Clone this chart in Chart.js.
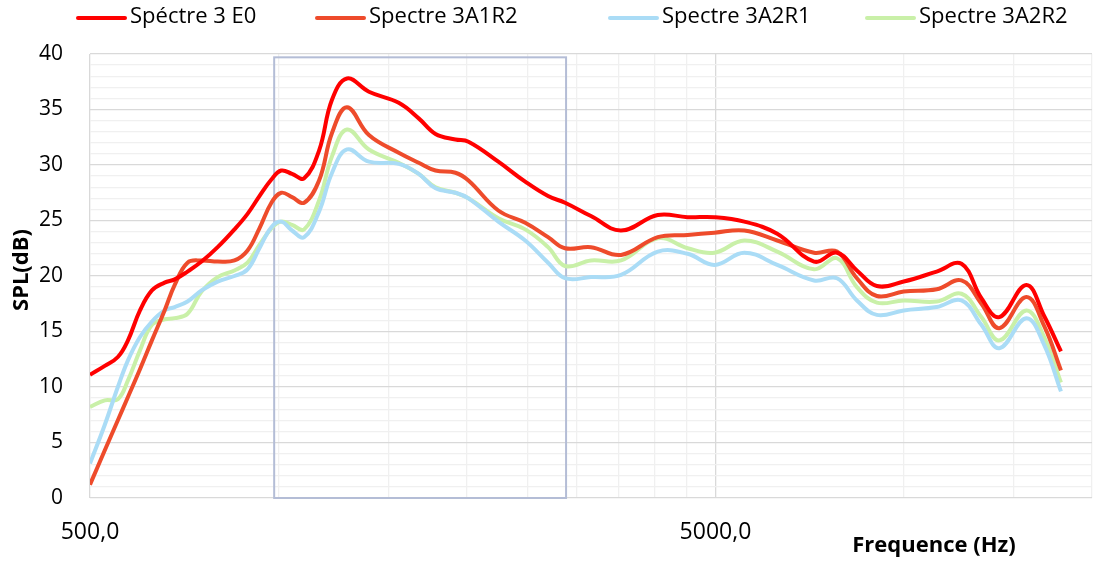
<!DOCTYPE html>
<html>
<head>
<meta charset="utf-8">
<script src="https://cdn.jsdelivr.net/npm/chart.js@4.4.1/dist/chart.umd.min.js"></script>
<style>
    html, body { margin: 0; padding: 0; background: #fff; }
    #wrap { width: 1113px; height: 563px; }
</style>
</head>
<body>
<div id="wrap"><canvas id="chart-spectre"></canvas></div>
<script>
// Spectres SPL par frequence

const frequences = [500, 528, 554, 575, 601, 628, 658, 683, 716, 754, 800, 851, 893, 933, 975,
    1011, 1052, 1100, 1162, 1219, 1288, 1396, 1558, 1677, 1784, 1920, 2014, 2248, 2482, 2700,
    2874, 3162, 3532, 4043, 4512, 4981, 5561, 6277, 7188, 7822, 8416, 9057, 10000, 11290,
    12370, 13310, 14220, 15700, 16770, 17840];

const spectreE0 = [11.1, 11.9, 12.7, 14.2, 16.9, 18.7, 19.4, 19.7, 20.4, 21.3, 22.6, 24.2, 25.6, 27.2, 28.7,
    29.5, 29.2, 28.8, 31.3, 35.9, 37.8, 36.6, 35.6, 34.2, 32.8, 32.3, 32.1, 30.3, 28.5, 27.2,
    26.6, 25.4, 24.1, 25.5, 25.3, 25.3, 24.9, 23.8, 21.3, 22.1, 20.5, 19.1, 19.5, 20.4,
    21.1, 18.0, 16.3, 19.2, 16.4, 13.2];

const spectreA1R2 = [1.2, 4.3, 7.0, 9.1, 11.6, 14.2, 16.9, 19.2, 21.2, 21.4, 21.3, 21.4, 22.3, 24.3, 26.6,
    27.5, 27.1, 26.6, 28.6, 32.9, 35.2, 32.7, 31.1, 30.2, 29.5, 29.3, 28.6, 25.9, 24.8, 23.5,
    22.5, 22.6, 21.9, 23.5, 23.7, 23.9, 24.1, 23.2, 22.1, 22.2, 19.8, 18.2, 18.6, 18.8,
    19.6, 17.5, 15.3, 18.1, 15.5, 11.5];

const spectreA2R1 = [3.1, 6.6, 10.0, 12.4, 14.5, 15.9, 16.9, 17.2, 17.7, 18.7, 19.5, 20.0, 20.6, 22.5, 24.4,
    24.9, 24.1, 23.5, 25.8, 29.3, 31.4, 30.3, 30.1, 29.2, 27.9, 27.5, 27.0, 24.9, 23.2, 21.2,
    19.8, 19.9, 20.1, 22.2, 22.0, 21.0, 22.1, 21.0, 19.6, 19.8, 17.8, 16.5, 16.9, 17.2,
    17.8, 15.6, 13.5, 16.2, 13.8, 9.6];

const spectreA2R2 = [8.2, 8.8, 8.9, 10.6, 13.3, 15.6, 16.1, 16.2, 16.6, 18.6, 19.9, 20.5, 21.2, 22.8, 24.3,
    24.9, 24.6, 24.2, 26.8, 30.8, 33.2, 31.4, 30.2, 29.2, 28.0, 27.5, 27.0, 25.2, 24.2, 22.6,
    20.9, 21.4, 21.4, 23.4, 22.5, 22.1, 23.2, 22.2, 20.6, 21.6, 19.0, 17.6, 17.8, 17.7,
    18.4, 16.3, 14.2, 16.9, 14.5, 10.4];

const ticksX = [500, 1000, 1500, 2000, 2500, 3000, 3500, 4000, 4500, 5000, 10000, 15000, 20000];
const ticksXMajeurs = [500, 5000];

// cadre de la zone etudiee (Hz, dB)
const cadreX = [985, 2885];
const cadreY = [0, 39.7];

// debut de chaque entree de legende (px)
const legendeX = [76, 315, 608, 865];

const police = "'Open Sans', sans-serif";

function serie(valeurs) {
    return frequences.map((f, i) => ({ x: f, y: valeurs[i] }));
}

function dataset(label, valeurs, couleur) {
    return {
        label: label,
        data: serie(valeurs),
        borderColor: couleur,
        backgroundColor: couleur,
        borderWidth: 4,
        pointRadius: 0,
        tension: 0.4,
        fill: false
    };
}

const pluginDecor = {
    id: 'decor',
    beforeDatasetsDraw(chart) {
        const ctx = chart.ctx;
        const sx = chart.scales.x, sy = chart.scales.y;
        ctx.save();
        ctx.strokeStyle = '#b4bdd6';
        ctx.lineWidth = 2;
        const x1 = sx.getPixelForValue(cadreX[0]), x2 = sx.getPixelForValue(cadreX[1]);
        const y1 = sy.getPixelForValue(cadreY[1]), y2 = sy.getPixelForValue(cadreY[0]);
        ctx.strokeRect(x1, y1, x2 - x1, y2 - y1);
        ctx.restore();
    },
    afterDraw(chart) {
        const ctx = chart.ctx;
        const area = chart.chartArea;
        ctx.save();
        ctx.fillStyle = '#000';
        ctx.textBaseline = 'middle';

        // legende
        ctx.font = "22px " + police;
        ctx.textAlign = 'left';
        chart.data.datasets.forEach((d, i) => {
            const x = legendeX[i];
            ctx.strokeStyle = d.borderColor;
            ctx.lineWidth = 4;
            ctx.lineCap = 'round';
            ctx.beginPath();
            ctx.moveTo(x + 2, 18);
            ctx.lineTo(x + 49, 18);
            ctx.stroke();
            ctx.fillText(d.label, x + 54, 17);
        });

        // titres des axes
        ctx.font = "bold 22px " + police;
        ctx.textAlign = 'center';
        ctx.fillText('Frequence (Hz)', area.right - 158, chart.height - 17);
        ctx.translate(22, (area.top + area.bottom) / 2 - 6);
        ctx.rotate(-Math.PI / 2);
        ctx.fillText('SPL(dB)', 0, 0);
        ctx.restore();
    }
};

const ctx = document.getElementById('chart-spectre');

new Chart(ctx, {
    type: 'line',
    data: {
        datasets: [
            dataset('Spéctre 3 E0', spectreE0, '#ff0000'),
            dataset('Spectre 3A1R2', spectreA1R2, '#ee4b2b'),
            dataset('Spectre 3A2R1', spectreA2R1, '#aadcf6'),
            dataset('Spectre 3A2R2', spectreA2R2, '#c9f0a8')
        ]
    },
    options: {
        responsive: true,
        maintainAspectRatio: false,
        animation: false,
        layout: { padding: { left: 0, right: 20, top: 54, bottom: 0 } },
        scales: {
            x: {
                type: 'logarithmic',
                min: 500,
                max: 20000,
                afterBuildTicks: (scale) => {
                    scale.ticks = ticksX.map(v => ({ value: v }));
                },
                afterFit: (scale) => { scale.height = 65; },
                grid: {
                    drawTicks: false,
                    lineWidth: 1.3,
                    color: (c) => ticksXMajeurs.includes(c.tick && c.tick.value) ? '#d9d9d9' : '#f0f0f0'
                },
                border: { display: false },
                ticks: {
                    autoSkip: false,
                    maxRotation: 0,
                    padding: 21,
                    color: '#000',
                    font: { family: police, size: 23 },
                    callback: (v) => ticksXMajeurs.includes(v) ? v.toFixed(1).replace('.', ',') : ''
                }
            },
            y: {
                min: 0,
                max: 40,
                afterFit: (scale) => { scale.width = 90; },
                grid: {
                    drawTicks: false,
                    lineWidth: 1.3,
                    color: (c) => (c.tick && c.tick.value % 5 === 0) ? '#d9d9d9' : '#f0f0f0'
                },
                border: { display: false },
                ticks: {
                    stepSize: 1,
                    autoSkip: false,
                    padding: 27,
                    color: '#000',
                    font: { family: police, size: 21 },
                    callback: (v) => v % 5 === 0 ? v : ''
                }
            }
        },
        plugins: {
            legend: { display: false },
            tooltip: { enabled: false }
        }
    },
    plugins: [pluginDecor]
});
</script>
</body>
</html>
